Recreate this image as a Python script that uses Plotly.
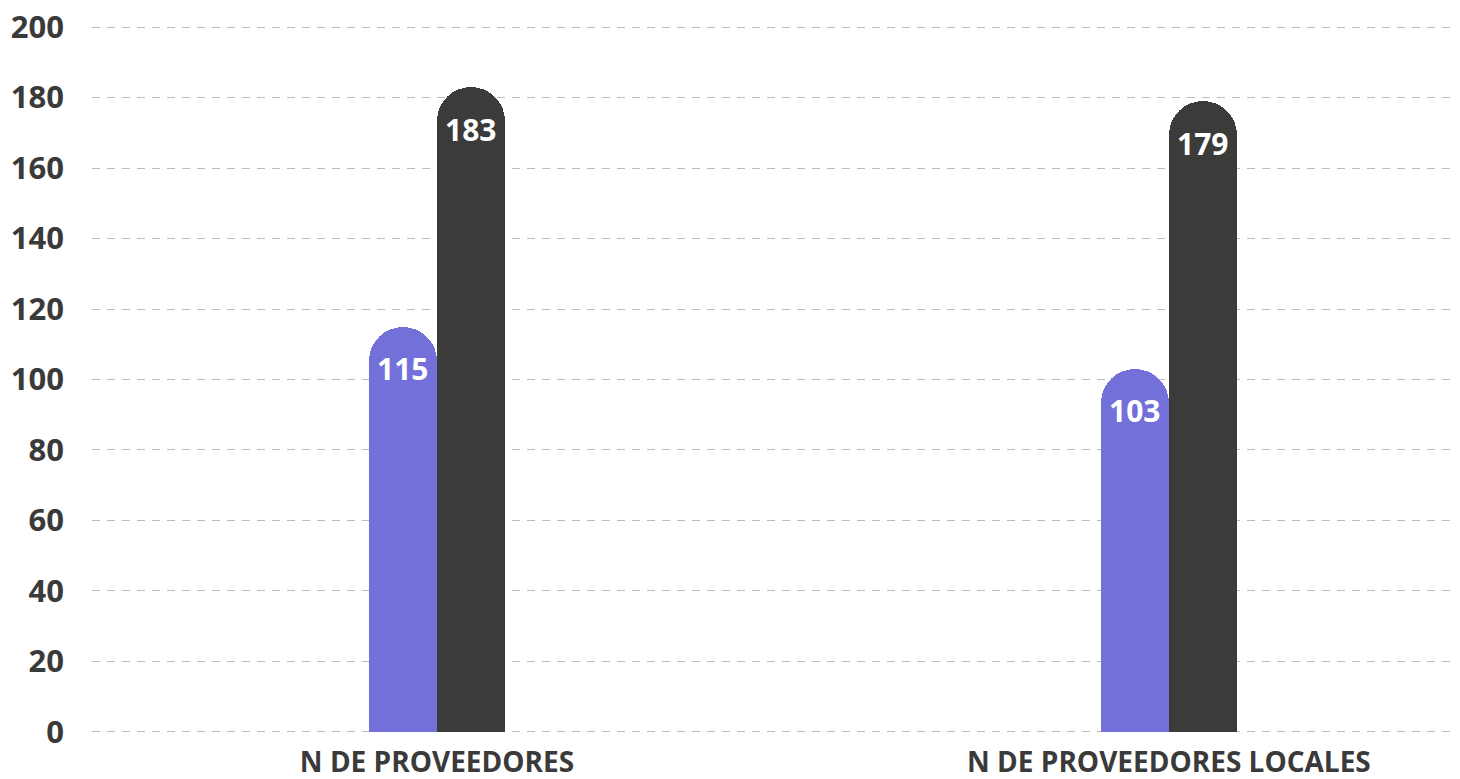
import plotly.graph_objects as go

categories = ["N DE PROVEEDORES", "N DE PROVEEDORES LOCALES"]
series_a = [115, 103]
series_b = [183, 179]
y_ticks = [0, 20, 40, 60, 80, 100, 120, 140, 160, 180, 200]

PURPLE = "#7470D9"
DARK = "#3B3B3A"
TEXT = "#3A3A3A"
FONT = "Open Sans"

x = list(range(len(categories)))
bw = 0.0929

fig = go.Figure()
for vals, col, off in [(series_a, PURPLE, -bw), (series_b, DARK, 0.0)]:
    fig.add_trace(go.Bar(
        x=x, y=vals, width=bw, offset=off,
        marker=dict(color=col, line=dict(width=0), cornerradius="50%"),
        hoverinfo="skip",
    ))
    for xi, v in zip(x, vals):
        fig.add_annotation(
            x=xi + off + bw / 2, y=v, text=str(v), showarrow=False,
            yanchor="middle", yshift=-42,
            font=dict(family=FONT, size=30, color="white", weight="bold"),
        )

fig.update_layout(
    width=1460, height=779,
    margin=dict(l=84, r=18, t=17, b=53, autoexpand=False),
    paper_bgcolor="white", plot_bgcolor="white",
    showlegend=False, bargap=0,
    font=dict(family=FONT, color=TEXT),
)
fig.update_xaxes(
    range=[-0.4713, 1.384], tickvals=x, ticktext=categories,
    showgrid=False, zeroline=False, showline=False, ticks="",
    automargin=False, ticklabelstandoff=9, ticklabeloverflow="allow",
    tickfont=dict(family=FONT, size=28, color=TEXT, weight="bold"),
)
fig.update_yaxes(
    range=[-0.6, 200.6], tickvals=y_ticks, showgrid=True,
    gridcolor="#BDBDBD", gridwidth=1, griddash="8px,7px",
    zeroline=False, showline=False, ticks="", ticklabelstandoff=27,
    automargin=False, ticklabeloverflow="allow",
    tickfont=dict(family=FONT, size=31, color=TEXT, weight="bold"),
)
fig.write_html("out.html")
